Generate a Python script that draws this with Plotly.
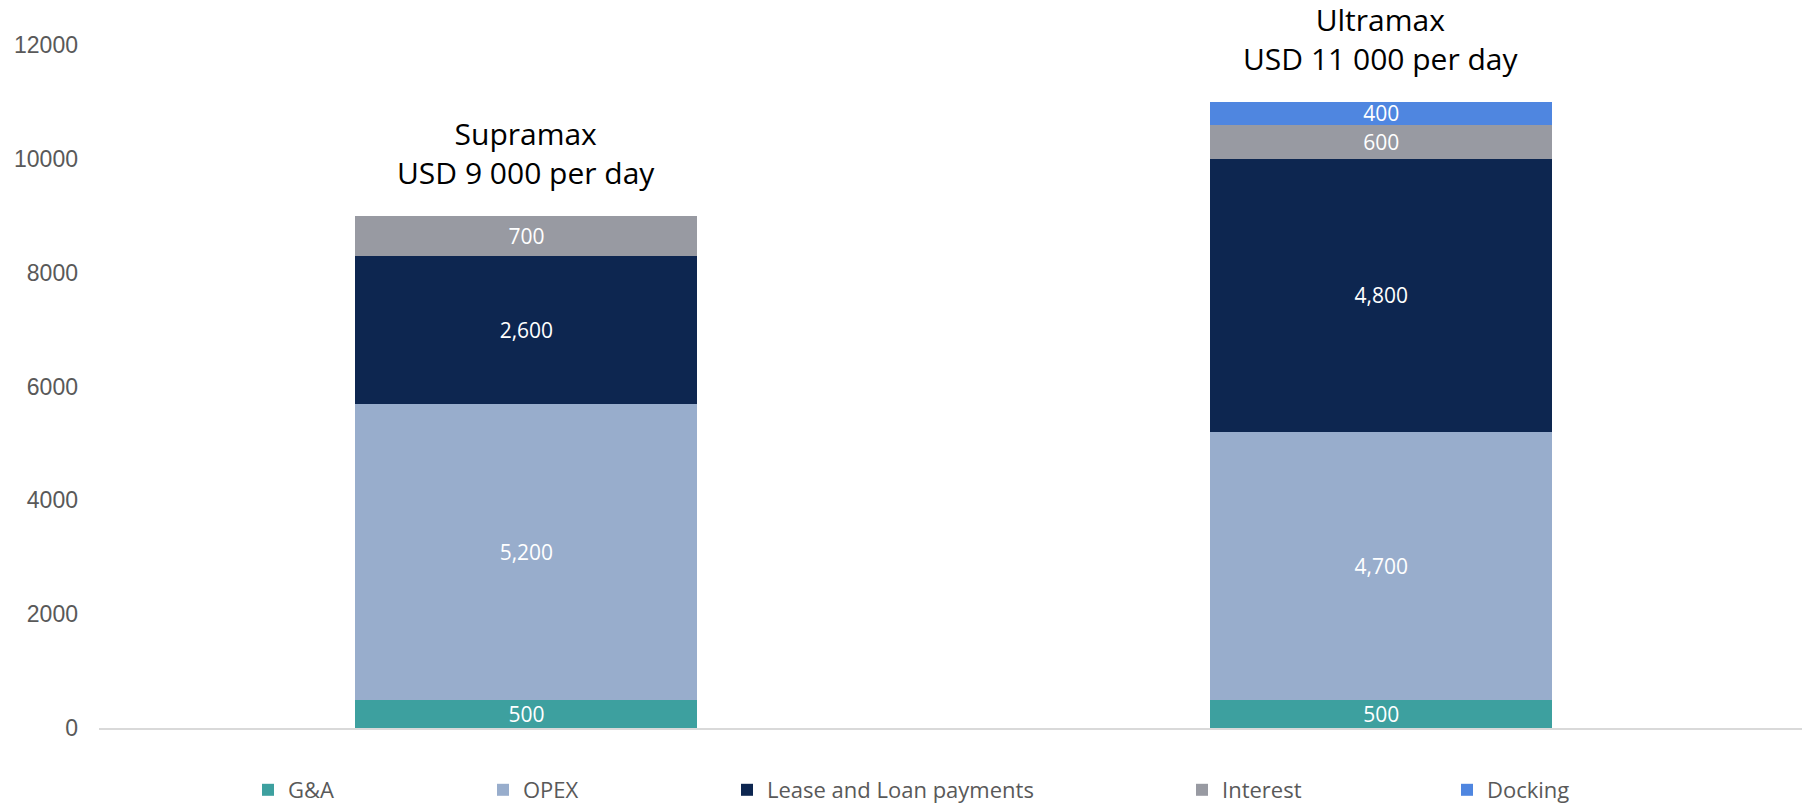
import plotly.graph_objects as go

# Vessel classes and daily cost breakdown (USD per day)
categories = ["Supramax", "Ultramax"]
series_names = ["G&A", "OPEX", "Lease and Loan payments", "Interest", "Docking"]
ga_values = [500, 500]
opex_values = [5200, 4700]
lease_values = [2600, 4800]
interest_values = [700, 600]
docking_values = [0, 400]

series_values = [ga_values, opex_values, lease_values, interest_values, docking_values]
series_colors = ["#3DA09F", "#98ADCC", "#0D2650", "#989AA2", "#4F86E0"]

y_ticks = [0, 2000, 4000, 6000, 8000, 10000, 12000]

W, H = 1802, 803
M_L, M_R, M_T, M_B = 99, 0, 45, 75
plot_w = W - M_L - M_R

# legend entry positions (left edge of each swatch, in pixels)
legend_px = [262, 497, 741, 1196, 1461]
legend_keys = ["legend", "legend2", "legend3", "legend4", "legend5"]

fig = go.Figure()
for name, vals, color, lkey in zip(series_names, series_values, series_colors, legend_keys):
    labels = [f"{v:,}" if v else "" for v in vals]
    fig.add_trace(go.Bar(
        x=categories,
        y=vals,
        name=name,
        marker=dict(color=color, line=dict(width=0)),
        text=labels,
        texttemplate="%{text}",
        textposition="inside",
        insidetextanchor="middle",
        textangle=0,
        constraintext="none",
        textfont=dict(family="Open Sans", size=21, color="white"),
        width=0.4,
        legend=lkey,
        hoverinfo="skip",
    ))

# totals above each stack
totals = [sum(s[i] for s in series_values) for i in range(len(categories))]
for cat, tot in zip(categories, totals):
    fig.add_annotation(
        x=cat, y=tot, xref="x", yref="y",
        text=f"{cat}<br>USD {tot:,} per day".replace(",", " "),
        showarrow=False, yanchor="bottom", yshift=21,
        font=dict(family="Open Sans", size=30, color="#000000"),
        align="center",
    )

layout_legends = {}
for lkey, px in zip(legend_keys, legend_px):
    layout_legends[lkey] = dict(
        x=(px - 14) / W,
        xref="container",
        xanchor="left",
        y=1 - 790 / H,
        yref="container",
        yanchor="middle",
        orientation="h",
        bgcolor="rgba(0,0,0,0)",
        borderwidth=0,
        font=dict(family="Open Sans", size=22, color="#595959"),
    )

fig.update_layout(
    width=W, height=H,
    margin=dict(l=M_L, r=M_R, t=M_T, b=M_B, pad=0, autoexpand=False),
    barmode="stack",
    plot_bgcolor="white",
    paper_bgcolor="white",
    showlegend=True,
    **layout_legends,
    xaxis=dict(
        range=[-0.5, 1.4923],
        showticklabels=False,
        showline=True, linecolor="#D9D9D9", linewidth=2,
        showgrid=False, zeroline=False, ticks="",
    ),
    yaxis=dict(
        range=[0, 12000],
        tickvals=y_ticks,
        ticktext=[str(t) for t in y_ticks],
        tickfont=dict(family="Liberation Sans", size=23, color="#595959"),
        showgrid=False, zeroline=False, showline=False,
        ticks="", ticklabelstandoff=20,
    ),
)

fig.write_html("out.html")
